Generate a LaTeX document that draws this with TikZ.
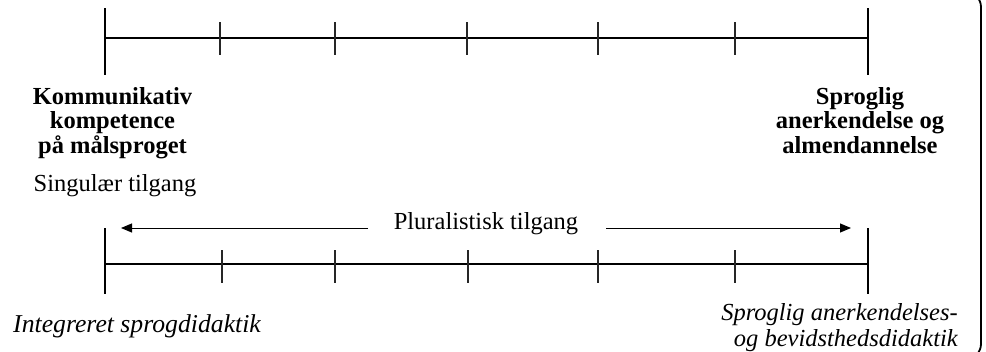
\documentclass[tikz,border=0pt]{standalone}
\usepackage{fontspec}
\setmainfont{Liberation Serif}
\usetikzlibrary{arrows.meta}
\begin{document}
\begin{tikzpicture}[x=1pt,y=-1pt,
  axisline/.style={line width=1.9pt,black},
  endtick/.style={line width=1.9pt,black},
  minortick/.style={line width=1.1pt,black!85},
  dirarrow/.style={line width=1pt,-{Triangle[length=11pt,width=9pt]}},
  boldlbl/.style={font=\fontsize{24.5}{24.8}\selectfont\bfseries,align=center,anchor=base,inner sep=0pt},
  plainlbl/.style={font=\fontsize{24.5}{25}\selectfont,anchor=base,inner sep=0pt},
  itallbl/.style={font=\fontsize{25.7}{28}\selectfont\itshape,inner sep=0pt}]
\useasboundingbox (0,0) rectangle (986,351);
\clip (0,0) rectangle (986,351);
% top scale
\coordinate (tL) at (105,38);
\coordinate (tR) at (868,38);
\draw[axisline] (tL) -- (tR);
\coordinate (tLa) at (105,8);  \coordinate (tLb) at (105,75);
\coordinate (tRa) at (868,8);  \coordinate (tRb) at (868,75);
\draw[endtick] (tLa) -- (tLb);
\draw[endtick] (tRa) -- (tRb);
\foreach \x/\n in {220/a,335/b,467/c,598/d,735/e}{
  \coordinate (tt\n1) at (\x,22); \coordinate (tt\n2) at (\x,55);
  \draw[minortick] (tt\n1) -- (tt\n2);
}
% bottom scale
\coordinate (bL) at (105,264);
\coordinate (bR) at (868,264);
\draw[axisline] (bL) -- (bR);
\coordinate (bLa) at (105,228);  \coordinate (bLb) at (105,294);
\coordinate (bRa) at (868,228);  \coordinate (bRb) at (868,294);
\draw[endtick] (bLa) -- (bLb);
\draw[endtick] (bRa) -- (bRb);
\foreach \x/\n in {222/a,335/b,468/c,598/d,735/e}{
  \coordinate (bt\n1) at (\x,250); \coordinate (bt\n2) at (\x,283);
  \draw[minortick] (bt\n1) -- (bt\n2);
}
% labels (base anchor = baseline of last line)
\node[boldlbl] (komm) at (112.5,153.6) {Kommunikativ\\kompetence\\på målsproget};
\node[boldlbl] (sprog) at (860,153.6) {Sproglig\\anerkendelse og\\almendannelse};
\node[plainlbl] (sing) at (115,191) {Singulær tilgang};
\node[plainlbl] (plur) at (486,229) {Pluralistisk tilgang};
\node[itallbl,anchor=base west] (integ) at (13,332) {Integreret sprogdidaktik};
\node[itallbl,font=\fontsize{24.5}{26.5}\selectfont\itshape,anchor=base east,align=right] (bevid) at (958,346.5) {Sproglig anerkendelses-\\og bevidsthedsdidaktik};
% arrows
\coordinate (alS) at (368,228); \coordinate (alE) at (121,228);
\coordinate (arS) at (606,228); \coordinate (arE) at (851,228);
\draw[dirarrow] (alS) -- (alE);
\draw[dirarrow] (arS) -- (arE);
% right bracket (edge of frame)
\coordinate (f1) at (930,-8); \coordinate (f2) at (981,-8);
\coordinate (f3) at (981,359); \coordinate (f4) at (930,359);
\draw[line width=1.8pt,rounded corners=15pt] (f1) -- (f2) -- (f3) -- (f4);
\end{tikzpicture}
\end{document}
